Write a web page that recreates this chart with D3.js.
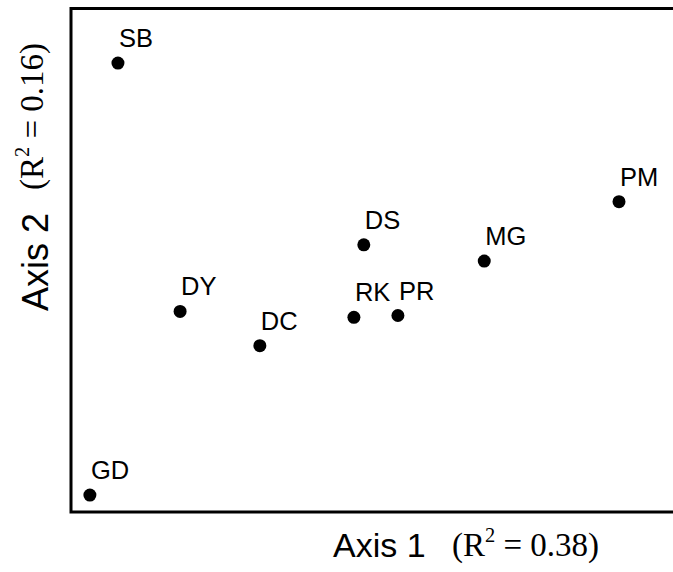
<!DOCTYPE html>
<html>
<head>
<meta charset="utf-8">
<script src="https://cdn.jsdelivr.net/npm/d3@7"></script>
<style>
  html, body { margin: 0; padding: 0; background: #fff; }
  svg { display: block; }
</style>
</head>
<body>
<svg id="chart" width="673" height="572"></svg>
<script>
// Site ordination scores (axis 1 and axis 2, rescaled 0–100)
const sites = ["SB", "PM", "DS", "MG", "DY", "RK", "PR", "DC", "GD"];
const axis1 = [6.9, 98.0, 51.6, 73.5, 18.2, 49.8, 57.8, 32.7, 1.8];
const axis2 = [97.1, 66.3, 56.7, 53.1, 41.9, 40.6, 41.0, 34.3, 1.1];
const axis1Title = "Axis 1", axis1R2 = "0.38";
const axis2Title = "Axis 2", axis2R2 = "0.16";

const svg = d3.select("#chart");
const sans = "'Liberation Sans', Arial, Helvetica, sans-serif";
const serif = "'Liberation Serif', 'Times New Roman', Times, serif";

const x = d3.scaleLinear().domain([0, 100]).range([80, 630]);
const y = d3.scaleLinear().domain([0, 100]).range([500, 50]);

// Frame: left, top and bottom edges (open on the right)
const frame = { left: 71, top: 8.5, bottom: 512, right: 680 };
svg.append("path")
  .attr("d", `M${frame.right},${frame.top}H${frame.left}V${frame.bottom}H${frame.right}`)
  .attr("fill", "none")
  .attr("stroke", "#000")
  .attr("stroke-width", 3);

const data = sites.map((s, i) => ({ site: s, a1: axis1[i], a2: axis2[i] }));

const g = svg.append("g");
g.selectAll("circle").data(data).join("circle")
  .attr("cx", d => x(d.a1))
  .attr("cy", d => y(d.a2))
  .attr("r", 6.5)
  .attr("fill", "#000");

g.selectAll("text.site").data(data).join("text")
  .attr("class", "site")
  .attr("x", d => x(d.a1) + 1)
  .attr("y", d => y(d.a2) - 16)
  .attr("font-family", sans)
  .attr("font-size", 25.5)
  .attr("fill", "#000")
  .text(d => d.site);

// Axis titles with R² of each ordination axis
function r2Label(sel, value, size) {
  sel.append("tspan").text("(R");
  sel.append("tspan").attr("font-size", size * 0.62).attr("dy", -size * 0.42).text("2");
  sel.append("tspan").attr("dy", size * 0.42).text(" = " + value + ")");
}

const xt = svg.append("text").attr("x", 333).attr("y", 557);
xt.append("tspan").attr("font-family", sans).attr("font-size", 34).text(axis1Title);
const xr = svg.append("text").attr("x", 452).attr("y", 556)
  .attr("font-family", serif).attr("font-size", 33);
r2Label(xr, axis1R2, 33);

const yt = svg.append("text")
  .attr("transform", "translate(48,311) rotate(-90)")
  .attr("font-family", sans).attr("font-size", 36).text(axis2Title);
const yr = svg.append("text")
  .attr("transform", "translate(43,190) rotate(-90)")
  .attr("font-family", serif).attr("font-size", 33);
r2Label(yr, axis2R2, 33);
</script>
</body>
</html>
